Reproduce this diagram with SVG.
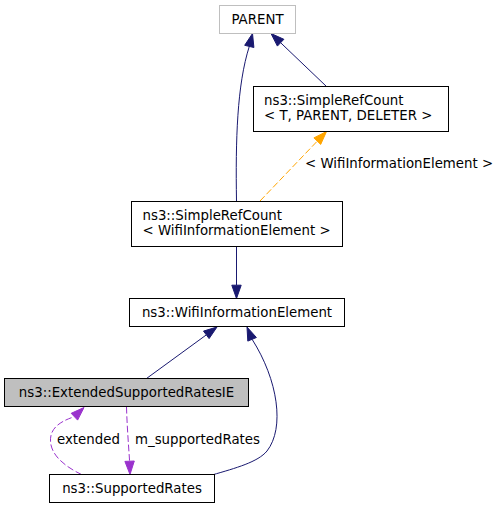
<svg xmlns="http://www.w3.org/2000/svg" width="499" height="509" viewBox="0 0 499 509">
<style>
  text { font-family: "DejaVu Sans", sans-serif; font-size: 13.33px; fill: #000; }
  .node rect { fill: #fff; stroke: #000; stroke-width: 1; }
  .mid { text-anchor: middle; }
  .inh { fill: none; stroke: #191970; stroke-width: 1; }
  .inhh { fill: #191970; stroke: #191970; stroke-width: 1; }
  .tpl { fill: none; stroke: #ffa500; stroke-width: 1; stroke-dasharray: 6.7,2.7; }
  .tplh { fill: #ffa500; stroke: #ffa500; stroke-width: 1; }
  .use { fill: none; stroke: #9a32cd; stroke-width: 1; stroke-dasharray: 6.7,2.7; }
  .useh { fill: #9a32cd; stroke: #9a32cd; stroke-width: 1; }
</style>
<rect width="499" height="509" fill="#fff"/>
<g id="connectors">
  <path class="inh" d="M236.5,201 C235.5,140 237,85 249.3,46.4"/>
  <polygon class="inhh" points="244.7,45.3 252.5,33.5 253.9,47.5"/>
  <path class="inh" d="M326.5,86.5 L280.6,42.7"/>
  <polygon class="inhh" points="283.9,39.3 271,33.5 277.4,46.1"/>
  <path class="tpl" d="M260,201 L317.3,141.1"/>
  <polygon class="tplh" points="320.7,144.4 326.5,131.5 313.9,137.9"/>
  <text x="305" y="168">&lt; WifiInformationElement &gt;</text>
  <path class="inh" d="M236.5,246.5 L236.5,285.2"/>
  <polygon class="inhh" points="231.8,285.2 236.5,298.5 241.2,285.2"/>
  <path class="inh" d="M146.5,378.5 L206.3,334.9"/>
  <polygon class="inhh" points="209.1,338.6 217,327 203.5,331.1"/>
  <path class="inh" d="M212,475 C236,468 258,462 267,451 C285,428 278,380 252.1,339.3"/>
  <polygon class="inhh" points="256.4,337.5 247,327 247.8,341.1"/>
  <path class="use" d="M81.5,474.5 C70,469 54,459 51,445 C48,430 58,422 74.4,416.7"/>
  <polygon class="useh" points="77.6,420.1 84,407.5 71.2,413.3"/>
  <text x="57" y="444">extended</text>
  <path class="use" d="M126.5,407 C127,425 128.5,445 129.6,461.2"/>
  <polygon class="useh" points="124.9,461.4 130,474.5 134.3,461"/>
  <text x="135" y="444">m_supportedRates</text>
</g>
<g id="node-parent" class="node">
  <rect x="219.5" y="5.5" width="76" height="28" style="stroke:#bfbfbf"/>
  <text class="mid" x="257.5" y="24">PARENT</text>
</g>
<g id="node-simplerefcount-t" class="node">
  <rect x="253.5" y="86.5" width="195" height="45"/>
  <text x="264" y="105">ns3::SimpleRefCount</text>
  <text x="264" y="120">&lt; T, PARENT, DELETER &gt;</text>
</g>
<g id="node-simplerefcount-wifi" class="node">
  <rect x="131.5" y="201.5" width="211" height="45"/>
  <text x="142.5" y="220">ns3::SimpleRefCount</text>
  <text x="142.5" y="235">&lt; WifiInformationElement &gt;</text>
</g>
<g id="node-wifiinformationelement" class="node">
  <rect x="129.5" y="298.5" width="215" height="28"/>
  <text class="mid" x="237" y="317">ns3::WifiInformationElement</text>
</g>
<g id="node-extendedsupportedratesie" class="node">
  <rect x="4.5" y="378.5" width="244" height="28" style="fill:#bfbfbf"/>
  <text class="mid" x="126.5" y="397">ns3::ExtendedSupportedRatesIE</text>
</g>
<g id="node-supportedrates" class="node">
  <rect x="49.5" y="474.5" width="165" height="28"/>
  <text class="mid" x="132" y="493">ns3::SupportedRates</text>
</g>
</svg>
